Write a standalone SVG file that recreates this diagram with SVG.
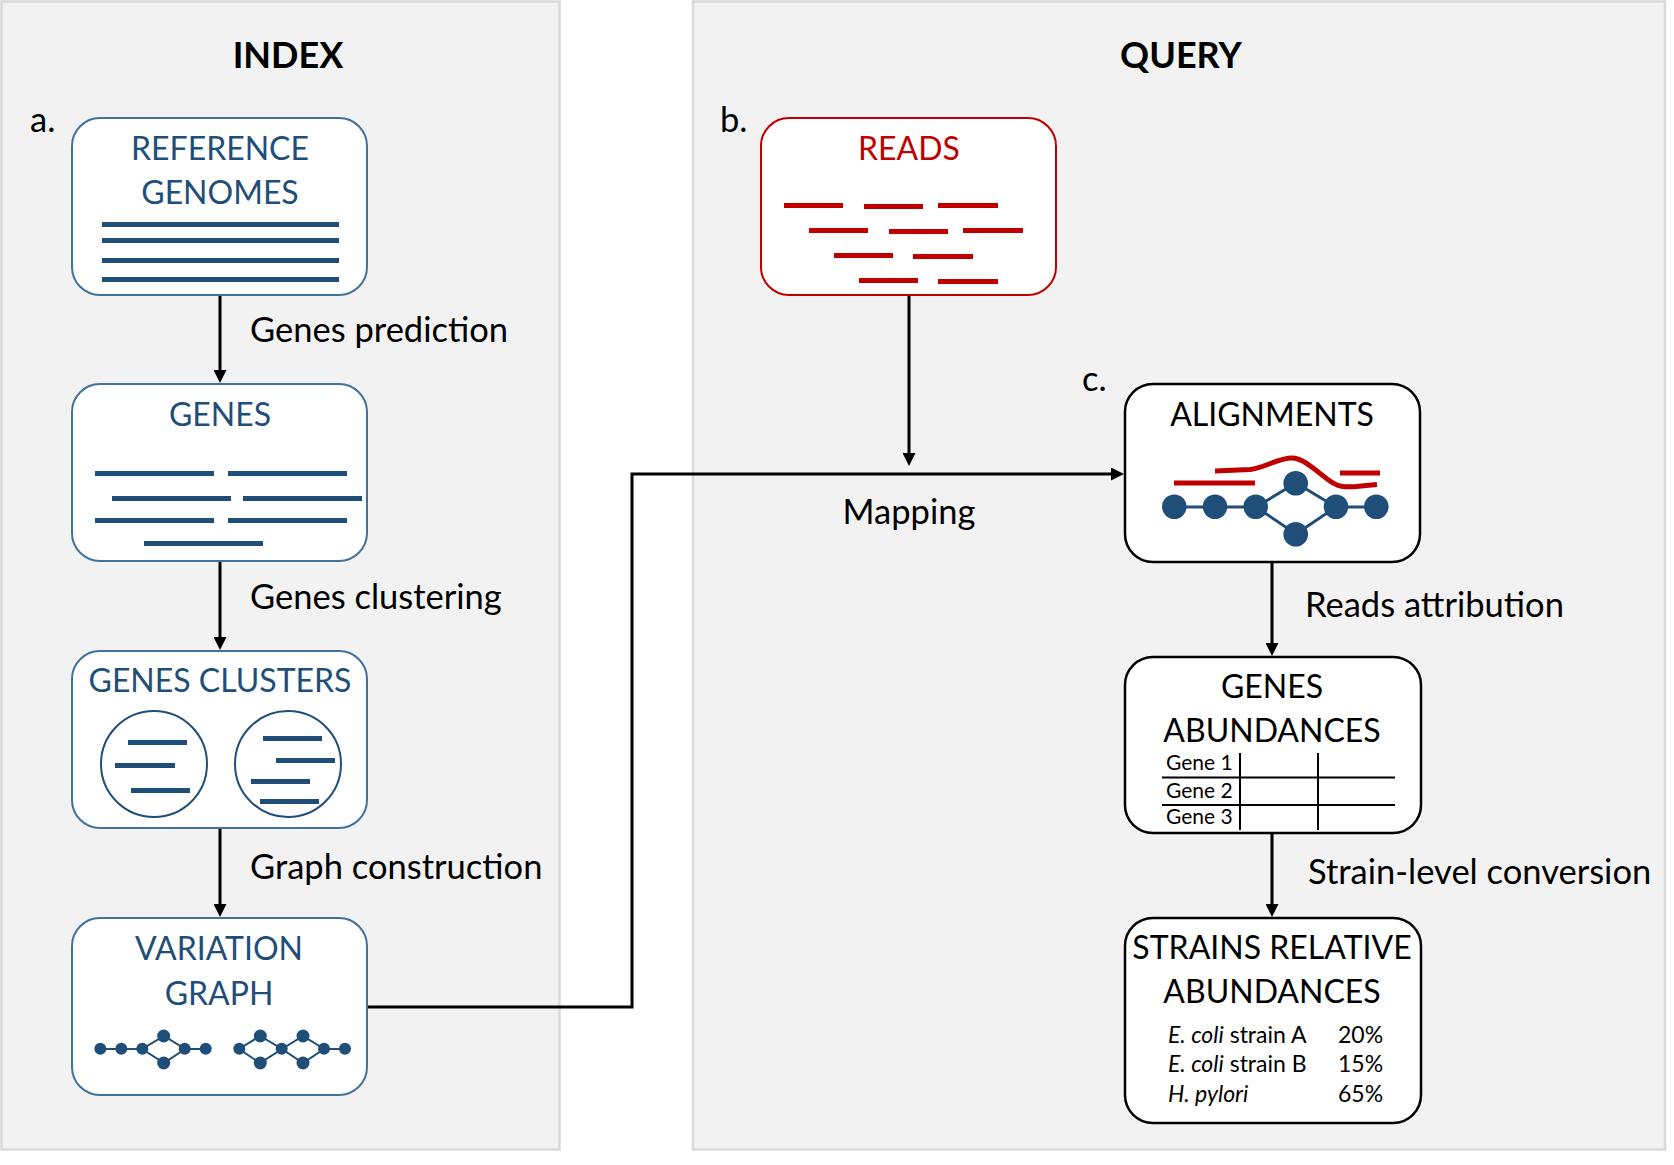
<svg xmlns="http://www.w3.org/2000/svg" width="1674" height="1165" viewBox="0 0 1674 1165">
<defs>
<style>
text{font-family:Lato,"Open Sans","Liberation Sans",sans-serif}
.panel{fill:#f2f2f2;stroke:#d9d9d9;stroke-width:2.5}
.bbox{fill:#fff;stroke:#41719c;stroke-width:2}
.rbox{fill:#fff;stroke:#c00000;stroke-width:2}
.kbox{fill:#fff;stroke:#000;stroke-width:2.5}
.bt{font-size:32px;fill:#1f4e79;text-anchor:middle}
.rt{font-size:32px;fill:#c00000;text-anchor:middle}
.kt{font-size:32px;fill:#000;text-anchor:middle}
.ttl{font-size:36px;font-weight:bold;fill:#000;text-anchor:middle}
.lab{font-size:34.5px;fill:#000}
.sm{font-size:21px;fill:#000}
.st{font-size:23px;fill:#000}
.bl{stroke:#1f4e79;stroke-width:5;fill:none}
.rl{stroke:#c00000;stroke-width:5;fill:none}
.edge{stroke:#1f4e79;stroke-width:2;fill:none}
.edge3{stroke:#1f4e79;stroke-width:3;fill:none}
.nd{fill:#1f4e79}
.circ{fill:#fff;stroke:#1f4e79;stroke-width:2}
.tbl{stroke:#000;stroke-width:2;fill:none}
.conn{stroke:#000;stroke-width:3;fill:none}
</style>
<marker id="arr" markerUnits="userSpaceOnUse" markerWidth="13" markerHeight="13" refX="2" refY="6.5" orient="auto">
<path d="M0,0 L13,6.5 L0,13 z" fill="#000"/>
</marker>
</defs>

<g id="panel-index">
<rect class="panel" x="1.5" y="1.5" width="558" height="1148"/>
<text class="ttl" x="288" y="68">INDEX</text>
<text class="lab" x="30" y="132">a.</text>
</g>
<g id="panel-query">
<rect class="panel" x="693" y="1.5" width="972" height="1148"/>
<text class="ttl" x="1181" y="68">QUERY</text>
<text class="lab" x="720" y="132">b.</text>
<text class="lab" x="1082" y="391">c.</text>
</g>

<g id="connectors">
<line class="conn" x1="220" y1="295" x2="220" y2="372" marker-end="url(#arr)"/>
<line class="conn" x1="220" y1="562" x2="220" y2="639" marker-end="url(#arr)"/>
<line class="conn" x1="220" y1="828" x2="220" y2="906" marker-end="url(#arr)"/>
<path class="conn" d="M367,1007 H632 V474 H1113" marker-end="url(#arr)"/>
<line class="conn" x1="909" y1="295" x2="909" y2="455" marker-end="url(#arr)"/>
<line class="conn" x1="1272" y1="562" x2="1272" y2="645" marker-end="url(#arr)"/>
<line class="conn" x1="1272" y1="833" x2="1272" y2="906" marker-end="url(#arr)"/>
<text class="lab" x="250" y="342">Genes prediction</text>
<text class="lab" x="250" y="609">Genes clustering</text>
<text class="lab" x="250" y="879">Graph construction</text>
<text class="lab" x="909" y="524" text-anchor="middle">Mapping</text>
<text class="lab" x="1305" y="617">Reads attribution</text>
<text class="lab" x="1308" y="884">Strain-level conversion</text>
</g>

<g id="reference-genomes">
<rect class="bbox" x="72" y="118" width="295" height="177" rx="28"/>
<text class="bt" x="220" y="160">REFERENCE</text>
<text class="bt" x="220" y="204">GENOMES</text>
<path class="bl" d="M102,224.5 H339 M102,240.5 H339 M102,260.5 H339 M102,279.5 H339"/>
</g>

<g id="genes">
<rect class="bbox" x="72" y="384" width="295" height="177" rx="28"/>
<text class="bt" x="220" y="426">GENES</text>
<path class="bl" d="M95,473.5 H214 M228,473.5 H347 M112,498.5 H231 M243,498.5 H362 M95,520.5 H214 M228,520.5 H347 M144,543.5 H263"/>
</g>

<g id="genes-clusters">
<rect class="bbox" x="72" y="651" width="295" height="177" rx="28"/>
<text class="bt" x="220" y="692">GENES CLUSTERS</text>
<circle class="circ" cx="154" cy="764" r="53"/>
<circle class="circ" cx="288" cy="764" r="53"/>
<path class="bl" d="M128,742.5 H187 M115,765.5 H175 M131,790.5 H190 M263,738.5 H322 M276,760.5 H335 M251,781.5 H310 M260,801.5 H319"/>
</g>

<g id="variation-graph">
<rect class="bbox" x="72" y="918" width="295" height="177" rx="28"/>
<text class="bt" x="219" y="960">VARIATION</text>
<text class="bt" x="219" y="1005">GRAPH</text>
<path class="edge" d="M100,1049 H142 L164,1036 L185,1049 L164,1063 L142,1049 M185,1049 H206"/>
<path class="edge" d="M239,1049 L260,1036 L282,1049 L260,1063 Z M282,1049 L303,1036 L324,1049 L303,1063 Z M324,1049 H345"/>
<g class="nd">
<circle cx="100.3" cy="1048.7" r="6"/><circle cx="121.3" cy="1048.7" r="6"/><circle cx="142.3" cy="1048.7" r="6"/>
<circle cx="163.7" cy="1036" r="6.5"/><circle cx="163.7" cy="1063" r="6.5"/>
<circle cx="184.7" cy="1048.7" r="6"/><circle cx="205.7" cy="1048.7" r="6"/>
<circle cx="239.3" cy="1048.7" r="6"/>
<circle cx="260.3" cy="1036" r="6.5"/><circle cx="260.3" cy="1063" r="6.5"/>
<circle cx="281.7" cy="1048.7" r="6"/>
<circle cx="303" cy="1036" r="6.5"/><circle cx="303" cy="1063" r="6.5"/>
<circle cx="324" cy="1048.7" r="6"/><circle cx="345" cy="1048.7" r="6"/>
</g>
</g>

<g id="reads">
<rect class="rbox" x="761" y="118" width="295" height="177" rx="28"/>
<text class="rt" x="909" y="160">READS</text>
<path class="rl" d="M784,205.5 H843 M864,206.5 H923 M938,205.5 H998 M809,230.5 H868 M889,231.5 H948 M963,230.5 H1023 M834,255.5 H893 M913,256.5 H973 M859,280.5 H918 M938,281.5 H998"/>
</g>

<g id="alignments">
<rect class="kbox" x="1125" y="384" width="295" height="178" rx="28"/>
<text class="kt" x="1272" y="426">ALIGNMENTS</text>
<path class="rl" d="M1174,483 H1255 M1340,473 H1380 M1215,471 L1250,469.5 C1265,468 1280,457 1293,458 C1306,459 1320,475 1333,483 C1339,487 1346,487 1356,486.5 L1377,484.5"/>
<path class="edge3" d="M1174,507 H1256 L1296,483 L1336,507 L1296,534 L1256,507 M1336,507 H1376"/>
<g class="nd">
<circle cx="1174.3" cy="506.7" r="12.3"/><circle cx="1215" cy="506.7" r="12.3"/><circle cx="1255.7" cy="506.7" r="12.3"/>
<circle cx="1295.7" cy="483.3" r="12.3"/><circle cx="1295.7" cy="534.3" r="12.3"/>
<circle cx="1336" cy="506.7" r="12.3"/><circle cx="1376.3" cy="506.7" r="12.3"/>
</g>
</g>

<g id="genes-abundances">
<rect class="kbox" x="1125" y="657" width="296" height="176" rx="28"/>
<text class="kt" x="1272" y="698">GENES</text>
<text class="kt" x="1272" y="742">ABUNDANCES</text>
<path class="tbl" d="M1162,777.5 H1395 M1162,805 H1395 M1240,753 V830 M1318,753 V830"/>
<text class="sm" x="1166" y="770">Gene 1</text>
<text class="sm" x="1166" y="798">Gene 2</text>
<text class="sm" x="1166" y="824">Gene 3</text>
</g>

<g id="strains-relative-abundances">
<rect class="kbox" x="1125" y="918" width="296" height="205" rx="28"/>
<text class="kt" x="1272" y="959">STRAINS RELATIVE</text>
<text class="kt" x="1272" y="1003">ABUNDANCES</text>
<text class="st" x="1168" y="1043"><tspan font-style="italic">E. coli</tspan> strain A</text>
<text class="st" x="1168" y="1072"><tspan font-style="italic">E. coli</tspan> strain B</text>
<text class="st" x="1168" y="1102" font-style="italic">H. pylori</text>
<text class="st" x="1338" y="1043">20%</text>
<text class="st" x="1338" y="1072">15%</text>
<text class="st" x="1338" y="1102">65%</text>
</g>
</svg>
